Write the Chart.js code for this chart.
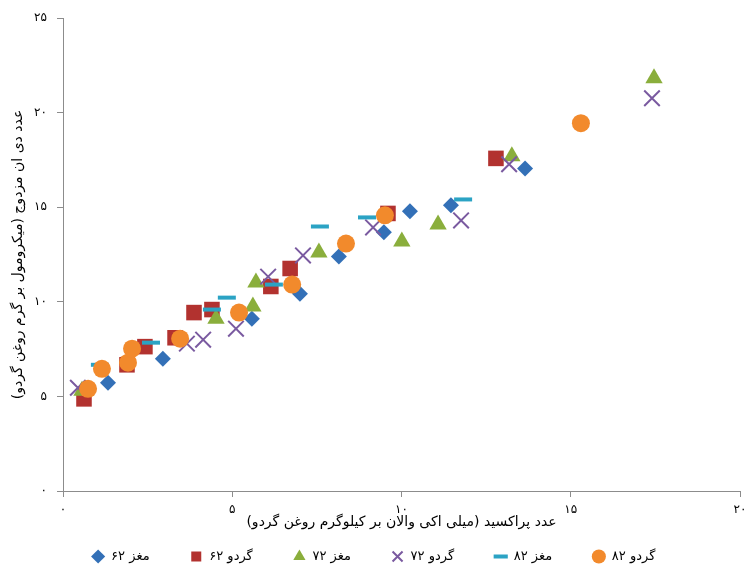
<!DOCTYPE html>
<html lang="fa">
<head>
<meta charset="utf-8">
<title>عدد دی ان مزدوج و عدد پراکسید</title>
<script src="https://cdn.jsdelivr.net/npm/chart.js@4.4.1/dist/chart.umd.min.js"></script>
<style>
  html, body { margin: 0; padding: 0; background: #fff; }
  #wrap { width: 747px; height: 573px; position: relative; }
</style>
</head>
<body>
<div id="wrap"><canvas id="walnutChart"></canvas></div>
<script>
// Series values (x: peroxide value, y: conjugated dienes)
const seriesNames = ['مغز ۶۲', 'گردو ۶۲', 'مغز ۷۲', 'گردو ۷۲', 'مغز ۸۲', 'گردو ۸۲'];

const kernel62X = [1.33, 2.95, 5.58, 7.0, 8.15, 9.48, 10.25, 11.46, 13.65];
const kernel62Y = [5.72, 6.99, 9.11, 10.43, 12.39, 13.67, 14.78, 15.1, 17.05];

const walnut62X = [0.62, 1.89, 2.42, 3.31, 3.87, 4.40, 6.14, 6.71, 9.60, 12.79];
const walnut62Y = [4.87, 6.67, 7.63, 8.10, 9.43, 9.59, 10.81, 11.76, 14.67, 17.58];

const kernel72X = [0.56, 4.52, 5.61, 5.70, 7.56, 10.01, 11.08, 13.26, 17.46];
const kernel72Y = [5.30, 9.11, 9.75, 11.02, 12.61, 13.19, 14.09, 17.69, 21.82];

const walnut72X = [0.44, 3.66, 4.14, 5.11, 6.06, 7.09, 9.16, 11.76, 13.18, 17.40];
const walnut72Y = [5.46, 7.79, 8.00, 8.58, 11.33, 12.45, 13.93, 14.30, 17.27, 20.76];

const kernel82X = [1.09, 2.60, 4.40, 4.84, 6.23, 7.59, 8.98, 11.82];
const kernel82Y = [6.67, 7.84, 9.59, 10.22, 10.91, 13.98, 14.46, 15.41];

const walnut82X = [0.74, 1.15, 1.92, 2.04, 3.46, 5.20, 6.77, 8.36, 9.51, 15.30];
const walnut82Y = [5.40, 6.46, 6.78, 7.52, 8.05, 9.43, 10.91, 13.08, 14.57, 19.44];

const xTicks = [0, 5, 10, 15, 20];
const yTicks = [0, 5, 10, 15, 20, 25];

const faDigits = '۰۱۲۳۴۵۶۷۸۹';
const toFa = n => String(n).replace(/\d/g, d => faDigits[d]);
const rtl = s => '\u200F' + s + '\u200F';

const pairs = (xs, ys) => xs.map((x, i) => ({ x: x, y: ys[i] }));

const FONT = "'DejaVu Sans', sans-serif";
const AXIS = '#8c8c8c';

const datasets = [
  { label: seriesNames[0], data: pairs(kernel62X, kernel62Y), pointStyle: 'rectRot', pointRadius: 8,
    backgroundColor: '#3370b7', borderColor: '#3370b7', borderWidth: 0, order: 6 },
  { label: seriesNames[1], data: pairs(walnut62X, walnut62Y), pointStyle: 'rect', pointRadius: 11,
    backgroundColor: '#b2322f', borderColor: '#b2322f', borderWidth: 0, order: 5 },
  { label: seriesNames[2], data: pairs(kernel72X, kernel72Y), pointStyle: 'triangle', pointRadius: 10,
    backgroundColor: '#8aae3c', borderColor: '#8aae3c', borderWidth: 0, order: 4 },
  { label: seriesNames[3], data: pairs(walnut72X, walnut72Y), pointStyle: 'crossRot', pointRadius: 11,
    backgroundColor: '#7a5aa0', borderColor: '#7a5aa0', borderWidth: 2, order: 3 },
  { label: seriesNames[4], data: pairs(kernel82X, kernel82Y), pointStyle: 'line', pointRadius: 9,
    backgroundColor: '#2ba3c4', borderColor: '#2ba3c4', borderWidth: 4, order: 2 },
  { label: seriesNames[5], data: pairs(walnut82X, walnut82Y), pointStyle: 'circle', pointRadius: 9,
    backgroundColor: '#f28a2c', borderColor: '#f28a2c', borderWidth: 0, order: 1 }
];

// keep the plot edge where the reference has it (x = 20 at 740px)
const xPadding = { left: 0, top: 0, right: 7, bottom: 0 };

const ctx = document.getElementById('walnutChart').getContext('2d');
const chart = new Chart(ctx, {
  type: 'scatter',
  data: { datasets: datasets },
  options: {
    responsive: true,
    maintainAspectRatio: false,
    animation: false,
    events: [],
    layout: { autoPadding: false, padding: { top: 18, right: 0, bottom: 0, left: 0 } },
    scales: {
      x: {
        type: 'linear',
        min: 0, max: 20,
        afterBuildTicks: axis => { axis.ticks = xTicks.map(v => ({ value: v })); },
        afterFit: axis => {
          axis.height = 49;
          axis.paddingLeft = 0;
          axis.paddingRight = 7;
          axis.getPadding = () => xPadding;
        },
        border: { display: true, color: AXIS, width: 1 },
        grid: { display: true, drawOnChartArea: false, drawTicks: true, tickLength: 6, color: AXIS },
        ticks: { color: '#000', padding: 6, maxRotation: 0, font: { family: FONT, size: 12 },
                 callback: v => toFa(v) },
        title: { display: true, text: rtl('عدد پراکسید (میلی اکی والان بر کیلوگرم روغن گردو)'),
                 color: '#000', padding: { top: 0, bottom: 9 }, font: { family: FONT, size: 14 } }
      },
      y: {
        type: 'linear',
        min: 0, max: 25,
        afterBuildTicks: axis => { axis.ticks = yTicks.map(v => ({ value: v })); },
        afterFit: axis => { axis.width = 63; },
        border: { display: true, color: AXIS, width: 1 },
        grid: { display: true, drawOnChartArea: false, drawTicks: true, tickLength: 6, color: AXIS },
        ticks: { color: '#000', padding: 10, font: { family: FONT, size: 12 },
                 callback: v => toFa(v) },
        title: { display: true, text: rtl('عدد دی ان مزدوج (میکرومول بر گرم روغن گردو)'),
                 color: '#000', padding: { top: 10, bottom: 0 }, font: { family: FONT, size: 14 } }
      }
    },
    plugins: {
      legend: {
        position: 'bottom',
        labels: {
          usePointStyle: true,
          boxHeight: 10,
          padding: 10,
          color: '#000',
          font: { family: FONT, size: 13 },
          sort: (a, b) => a.datasetIndex - b.datasetIndex,
          generateLabels: c => {
            const items = Chart.defaults.plugins.legend.labels.generateLabels(c);
            items.forEach(it => {
              it.text = rtl(it.text) + (it.datasetIndex < seriesNames.length - 1 ? '\u2003\u2003 ' : '');
            });
            return items;
          }
        }
      },
      tooltip: { enabled: false }
    }
  }
});
</script>
</body>
</html>
